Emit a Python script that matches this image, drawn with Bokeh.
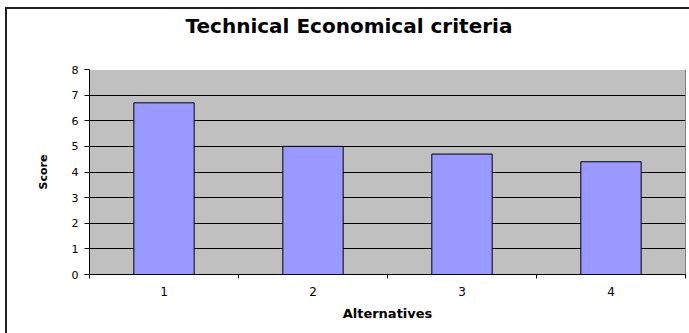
from bokeh.plotting import figure
from bokeh.models import FixedTicker, ColumnDataSource, Range1d, InlineStyleSheet, LinearAxis
from bokeh.embed import file_html
from bokeh.resources import INLINE

# Data
categories = ["1", "2", "3", "4"]
scores = [6.7, 5.0, 4.7, 4.4]
y_ticks = [0, 1, 2, 3, 4, 5, 6, 7, 8]
title_text = "Technical Economical criteria"
x_label = "Alternatives"
y_label = "Score"

xpos = [i + 1 for i in range(len(categories))]
source = ColumnDataSource(dict(x=xpos, score=scores, cat=categories))

p = figure(width=689, height=333, output_backend="svg", toolbar_location=None,
           x_range=Range1d(0.5, len(categories) + 0.5), y_range=Range1d(0, 8),
           min_border_left=89, min_border_right=4, min_border_top=69, min_border_bottom=59,
           tools="")

p.background_fill_color = "#C0C0C0"
p.border_fill_color = "white"
p.outline_line_color = "#808080"
p.outline_line_width = 1

# invisible spacer between plot area and title: one white tick on a white axis
mid = (1 + len(categories)) / 2
spacer = LinearAxis(ticker=FixedTicker(ticks=[mid]), axis_line_color="white",
                    major_tick_line_color="white", minor_tick_line_color=None,
                    major_tick_out=27, major_tick_in=0,
                    major_label_overrides={mid: ""}, major_label_standoff=0,
                    major_label_text_font_size="1px", major_label_text_color="white")
p.add_layout(spacer, "above")

p.title.text = title_text
p.title.text_font = "DejaVu Sans"
p.title.text_font_size = "20px"
p.title.text_font_style = "bold"
p.title.align = "left"
p.title.offset = 96
p.title.standoff = 10
p.title.text_color = "black"

p.vbar(x="x", top="score", width=0.405, source=source,
       fill_color="#9999FF", line_color="black", line_width=1)

# grid
p.xgrid.visible = False
p.ygrid.ticker = FixedTicker(ticks=y_ticks[1:-1])
p.ygrid.grid_line_color = "black"
p.ygrid.grid_line_width = 1

# y axis
p.yaxis.ticker = FixedTicker(ticks=y_ticks)
p.yaxis.axis_line_color = "black"
p.yaxis.major_tick_out = 5
p.yaxis.major_tick_in = 0
p.yaxis.major_tick_line_color = "black"
p.yaxis.minor_tick_line_color = None
p.yaxis.major_label_text_font = "DejaVu Sans"
p.yaxis.major_label_text_font_size = "11px"
p.yaxis.major_label_text_color = "black"
p.yaxis.major_label_standoff = 6
p.yaxis.axis_label = y_label
p.yaxis.axis_label_text_font = "DejaVu Sans"
p.yaxis.axis_label_text_font_size = "11px"
p.yaxis.axis_label_text_font_style = "bold"
p.yaxis.axis_label_text_color = "black"
p.yaxis.axis_label_standoff = 19

# x axis (bottom)
xaxis = p.below[0]
boundaries = [i + 0.5 for i in range(len(categories) + 1)]
xaxis.ticker = FixedTicker(ticks=xpos, minor_ticks=boundaries)
xaxis.major_label_overrides = {x: c for x, c in zip(xpos, categories)}
xaxis.axis_line_color = "black"
xaxis.major_tick_out = 0
xaxis.major_tick_in = 0
xaxis.minor_tick_out = 4
xaxis.minor_tick_in = 0
xaxis.minor_tick_line_color = "black"
xaxis.major_label_text_font = "DejaVu Sans"
xaxis.major_label_text_font_size = "12px"
xaxis.major_label_text_color = "black"
xaxis.major_label_standoff = 8
xaxis.axis_label = x_label
xaxis.axis_label_text_font = "DejaVu Sans"
xaxis.axis_label_text_font_size = "13px"
xaxis.axis_label_text_font_style = "bold"
xaxis.axis_label_text_color = "black"
xaxis.axis_label_standoff = 7

# outer chart border (only its top and left edges fall inside the picture)
p.stylesheets = [InlineStyleSheet(css="""
:host::after {
  content: "";
  position: absolute;
  left: 5px;
  top: 7px;
  width: 720px;
  height: 360px;
  border-top: 2px solid #222222;
  border-left: 2px solid #222222;
  pointer-events: none;
  z-index: 100;
}
:host { overflow: hidden; }
""")]

open("out.html", "w").write(file_html(p, INLINE))
